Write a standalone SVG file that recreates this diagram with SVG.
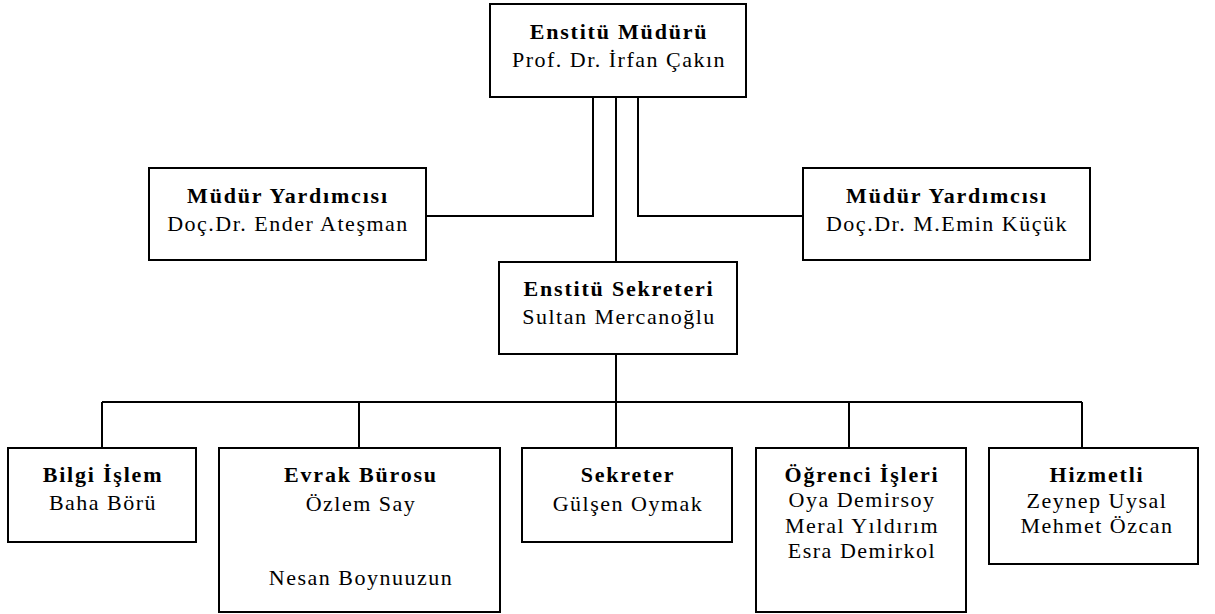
<svg xmlns="http://www.w3.org/2000/svg" width="1215" height="614" viewBox="0 0 1215 614">
<style>
.box{fill:#fff;stroke:#000;stroke-width:2}
.ln{fill:none;stroke:#000;stroke-width:2}
text{font-family:'Liberation Serif','Times New Roman',serif;font-size:22px;letter-spacing:1.5px;text-anchor:middle;fill:#000}
.b{font-weight:bold;letter-spacing:1.8px}
</style>
<rect width="1215" height="614" fill="#fff"/>
<g id="connectors">
<polyline class="ln" points="593,97 593,216 426,216"/>
<polyline class="ln" points="638,97 638,216 803,216"/>
<line class="ln" x1="616" y1="97" x2="616" y2="262"/>
<line class="ln" x1="616" y1="354" x2="616" y2="402"/>
<line class="ln" x1="102" y1="402" x2="1082" y2="402"/>
<line class="ln" x1="102" y1="402" x2="102" y2="448"/>
<line class="ln" x1="359" y1="402" x2="359" y2="448"/>
<line class="ln" x1="616" y1="402" x2="616" y2="448"/>
<line class="ln" x1="849" y1="402" x2="849" y2="448"/>
<line class="ln" x1="1082" y1="402" x2="1082" y2="448"/>
</g>
<g id="mudur">
<rect class="box" x="490" y="4" width="256" height="93"/>
<text x="619" y="39" class="b">Enstitü Müdürü</text>
<text x="619" y="67">Prof. Dr. İrfan Çakın</text>
</g>
<g id="yardimci1">
<rect class="box" x="149" y="168" width="277" height="92"/>
<text x="288" y="203" class="b">Müdür Yardımcısı</text>
<text x="288" y="231">Doç.Dr. Ender Ateşman</text>
</g>
<g id="yardimci2">
<rect class="box" x="803" y="168" width="287" height="92"/>
<text x="947" y="203" class="b">Müdür Yardımcısı</text>
<text x="947" y="231">Doç.Dr. M.Emin Küçük</text>
</g>
<g id="sekreteri">
<rect class="box" x="499" y="262" width="238" height="92"/>
<text x="619" y="296" class="b">Enstitü Sekreteri</text>
<text x="619" y="324">Sultan Mercanoğlu</text>
</g>
<g id="bilgi">
<rect class="box" x="8" y="448" width="188" height="94"/>
<text x="103" y="482" class="b">Bilgi İşlem</text>
<text x="103" y="510">Baha Börü</text>
</g>
<g id="evrak">
<rect class="box" x="219" y="448" width="281" height="164"/>
<text x="361" y="482" class="b">Evrak Bürosu</text>
<text x="361" y="511">Özlem Say</text>
<text x="361" y="585">Nesan Boynuuzun</text>
</g>
<g id="sekreter">
<rect class="box" x="522" y="448" width="210" height="94"/>
<text x="628" y="482" class="b">Sekreter</text>
<text x="628" y="511">Gülşen Oymak</text>
</g>
<g id="ogrenci">
<rect class="box" x="756" y="448" width="210" height="164"/>
<text x="862" y="482" class="b">Öğrenci İşleri</text>
<text x="862" y="507">Oya Demirsoy</text>
<text x="862" y="533">Meral Yıldırım</text>
<text x="862" y="558">Esra Demirkol</text>
</g>
<g id="hizmetli">
<rect class="box" x="989" y="448" width="209" height="116"/>
<text x="1097" y="482" class="b">Hizmetli</text>
<text x="1097" y="508">Zeynep Uysal</text>
<text x="1097" y="533">Mehmet Özcan</text>
</g>
</svg>
